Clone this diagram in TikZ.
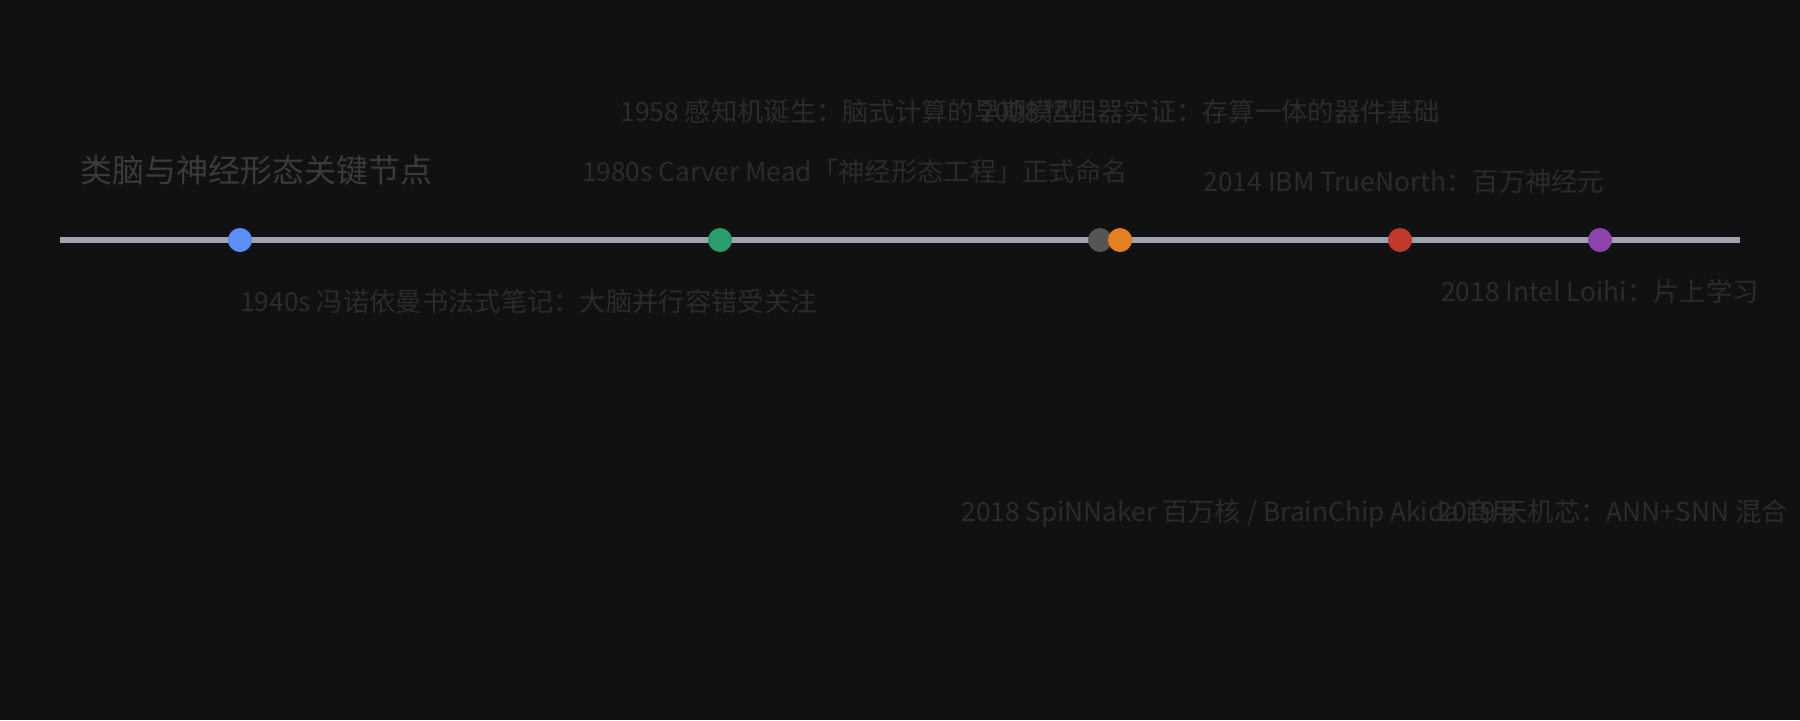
\documentclass[tikz,border=0pt]{standalone}
\usepackage{fontspec}
\newfontfamily\cjk{Noto Sans CJK SC}
\definecolor{bgc}{HTML}{111111}
\definecolor{axisc}{HTML}{9CA3AF}
\definecolor{titlec}{HTML}{3A3A3A}
\definecolor{labelc}{HTML}{2B2B2B}
\definecolor{c1}{HTML}{5B8FF9}
\definecolor{c2}{HTML}{2C9E6E}
\definecolor{c3}{HTML}{555555}
\definecolor{c4}{HTML}{E67E22}
\definecolor{c5}{HTML}{C0392B}
\definecolor{c6}{HTML}{8E44AD}
\tikzset{
  lbl/.style={inner sep=0pt, text=labelc, font=\cjk\fontsize{13.15pt}{15pt}\selectfont},
  ttl/.style={inner sep=0pt, text=titlec, font=\cjk\fontsize{16pt}{19pt}\selectfont},
  dot/.style={circle, inner sep=0pt, minimum size=12pt, fill=#1},
  axisline/.style={draw=axisc, line width=3pt}
}
\begin{document}
\begin{tikzpicture}[x=0.5pt,y=-0.5pt]
\fill[bgc] (0,0) rectangle (1800,720);
\useasboundingbox (0,0) rectangle (1800,720);
\node[ttl, anchor=base west] (title) at (80,182) {类脑与神经形态关键节点};
\coordinate (a0) at (60,240);
\coordinate (a1) at (1740,240);
\draw[axisline] (a0) -- (a1);
\node[dot=c1] (d1) at (240,240) {};
\node[dot=c2] (d2) at (720,240) {};
\node[dot=c3] (d3) at (1100,240) {};
\node[dot=c4] (d4) at (1120,240) {};
\node[dot=c5] (d5) at (1400,240) {};
\node[dot=c6] (d6) at (1600,240) {};
\node[lbl, anchor=base west] (l1) at (240,311) {1940s 冯诺依曼书法式笔记：大脑并行容错受关注};
\node[lbl, anchor=base] (l2) at (850,121) {1958 感知机诞生：脑式计算的早期模型};
\node[lbl, anchor=base] (l3) at (855,181) {1980s Carver Mead「神经形态工程」正式命名};
\node[lbl, anchor=base] (l4) at (1210,121) {2008 忆阻器实证：存算一体的器件基础};
\node[lbl, anchor=base] (l5) at (1404,191) {2014 IBM TrueNorth：百万神经元};
\node[lbl, anchor=base] (l6) at (1600,301) {2018 Intel Loihi：片上学习};
\node[lbl, anchor=base west] (l7) at (961,521) {2018 SpiNNaker 百万核 / BrainChip Akida 商用};
\node[lbl, anchor=base west] (l8) at (1437,521) {2019 天机芯：ANN+SNN 混合};
\end{tikzpicture}
\end{document}
